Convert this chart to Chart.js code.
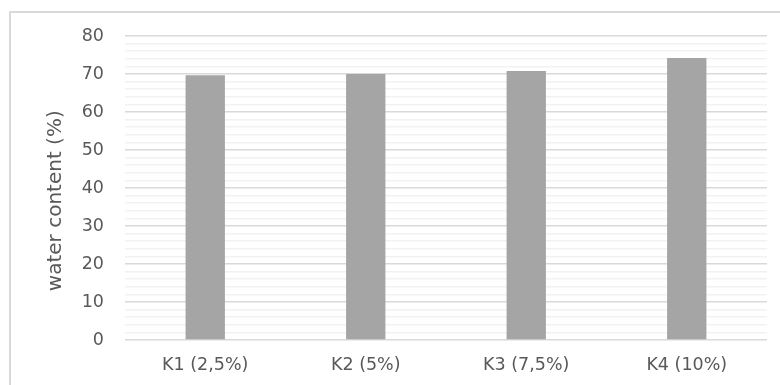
<!DOCTYPE html>
<html>
<head>
<meta charset="utf-8">
<script src="https://cdn.jsdelivr.net/npm/chart.js@4/dist/chart.umd.min.js"></script>
<style>
  html, body { margin: 0; padding: 0; background: #ffffff; }
  #wrap { position: relative; width: 780px; height: 385px; overflow: hidden; }
  #frame {
    position: absolute; left: 9px; top: 11px; width: 800px; height: 420px;
    border: 2px solid #d9d9d9; box-sizing: border-box;
  }
  #chart { position: absolute; left: 0; top: 0; }
</style>
</head>
<body>
<div id="wrap">
  <div id="frame"></div>
  <canvas id="chart" width="780" height="385"></canvas>
</div>
<script>
// Samples and measured water content
const categories = ['K1 (2,5%)', 'K2 (5%)', 'K3 (7,5%)', 'K4 (10%)'];
const waterContent = [69.7, 70.0, 70.8, 74.2];
const yMin = 0;
const yMax = 80;
const yMajorStep = 10;
const yMinorStep = 2;

const font = 'DejaVu Sans, sans-serif';

new Chart(document.getElementById('chart'), {
  type: 'bar',
  data: {
    labels: categories,
    datasets: [{
      data: waterContent,
      backgroundColor: '#a5a5a5',
      borderWidth: 0,
      barPercentage: 0.245,
      categoryPercentage: 1.0
    }]
  },
  options: {
    responsive: false,
    animation: false,
    devicePixelRatio: 1,
    layout: { padding: { left: 0, right: 13, top: 36, bottom: 0 } },
    plugins: {
      legend: { display: false },
      tooltip: { enabled: false }
    },
    scales: {
      x: {
        grid: { display: false, drawTicks: false },
        border: { display: false },
        ticks: {
          color: '#595959',
          font: { family: font, size: 17.5 },
          padding: 15,
          maxRotation: 0
        },
        afterFit: (s) => { s.height = 45; }
      },
      y: {
        min: yMin,
        max: yMax,
        border: { display: false },
        grid: {
          drawTicks: false,
          color: (ctx) => (ctx.tick && ctx.tick.value % yMajorStep === 0) ? '#d9d9d9' : '#f2f2f2',
          lineWidth: 1.5
        },
        ticks: {
          stepSize: yMinorStep,
          autoSkip: false,
          color: '#595959',
          font: { family: font, size: 17.5 },
          padding: 21,
          callback: (v) => (v % yMajorStep === 0 ? String(v) : '')
        },
        title: {
          display: true,
          // trailing spaces nudge the rotated title toward the bottom
          text: 'water content (%)\u00a0\u00a0\u00a0\u00a0',
          color: '#595959',
          font: { family: font, size: 20, weight: 'normal' },
          padding: { top: 44, bottom: 0 }
        },
        afterFit: (s) => { s.width = 125; }
      }
    }
  }
});
</script>
</body>
</html>
